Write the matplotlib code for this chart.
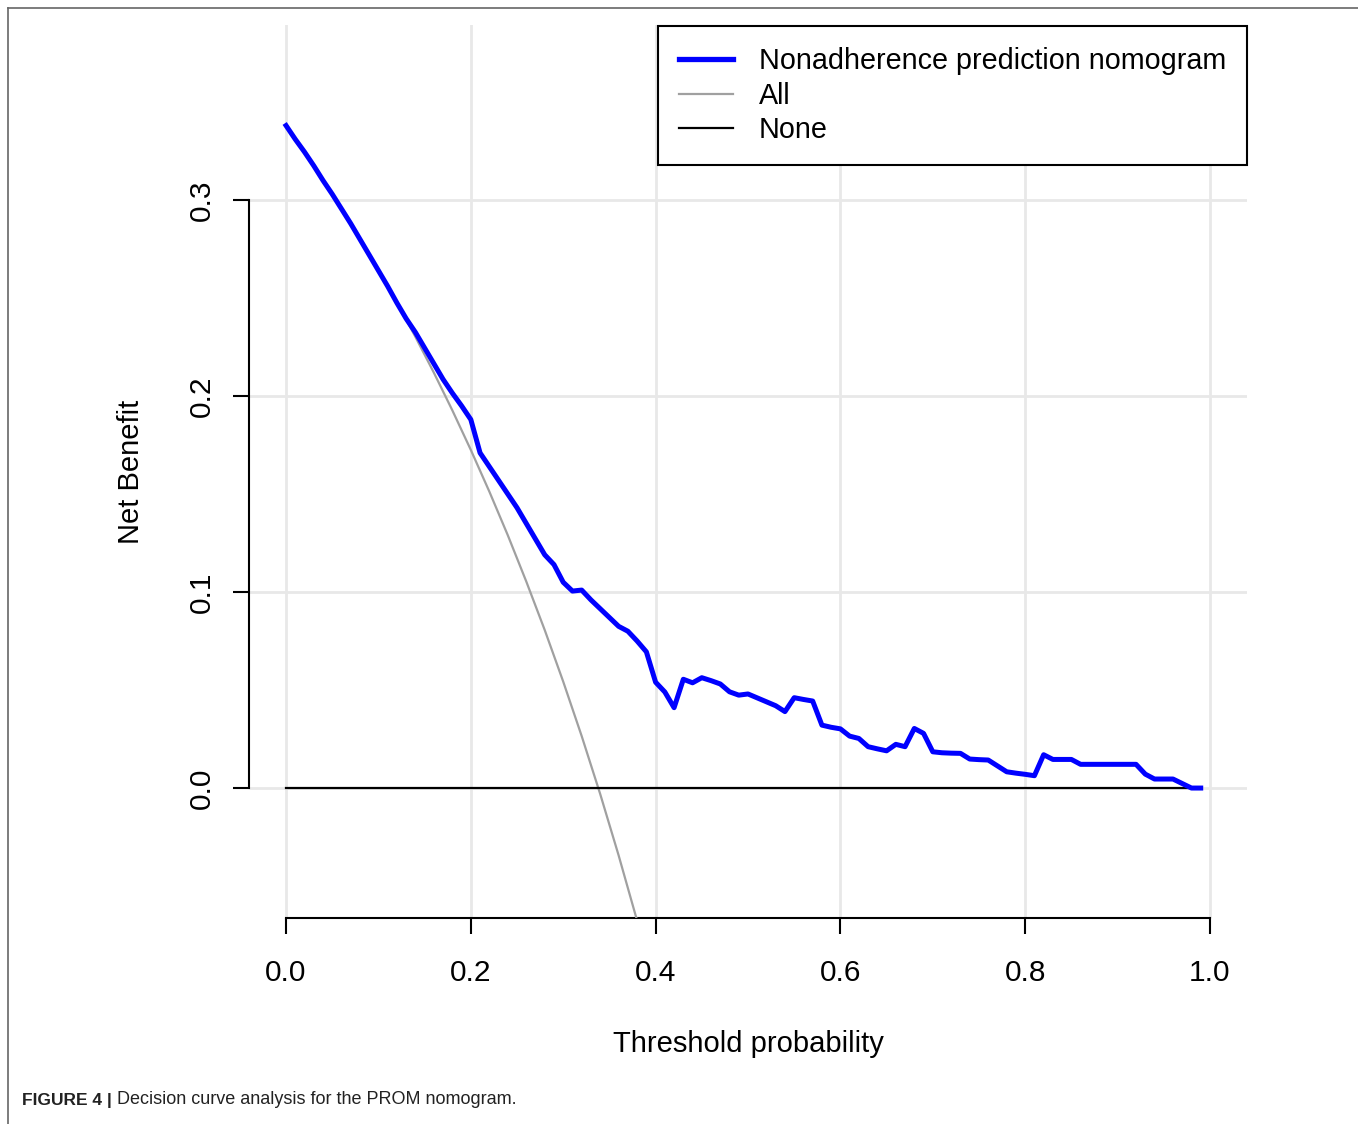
import numpy as np
import matplotlib
matplotlib.use("Agg")
import matplotlib.pyplot as plt
from matplotlib.lines import Line2D

plt.rcParams['font.family'] = ['Liberation Sans', 'DejaVu Sans']

# threshold probabilities (0.00 .. 0.99)
threshold = np.arange(100) / 100.0

# net benefit of the nomogram
nb_model = [
    0.338, 0.331, 0.3245, 0.3175, 0.310, 0.303, 0.2955, 0.288, 0.280, 0.272,
    0.264, 0.256, 0.2475, 0.2395, 0.2325, 0.2245, 0.2165, 0.2085, 0.2015, 0.195,
    0.188, 0.171, 0.164, 0.157, 0.150, 0.143, 0.135, 0.127, 0.119, 0.114,
    0.105, 0.1005, 0.101, 0.096, 0.0915, 0.087, 0.0825, 0.080, 0.075, 0.0695,
    0.054, 0.049, 0.041, 0.0555, 0.0537, 0.0563, 0.0548, 0.0531, 0.0491, 0.0474,
    0.048, 0.046, 0.044, 0.042, 0.039, 0.0461, 0.0452, 0.0444, 0.0321, 0.031,
    0.0302, 0.0265, 0.0253, 0.0211, 0.020, 0.019, 0.0223, 0.0211, 0.0304, 0.0279,
    0.0185, 0.018, 0.0178, 0.0177, 0.0148, 0.0145, 0.0143, 0.0113, 0.0083, 0.0076,
    0.007, 0.0063, 0.017, 0.0146, 0.0146, 0.0146, 0.0121, 0.0121, 0.0121, 0.0121,
    0.0121, 0.0121, 0.0121, 0.0071, 0.0046, 0.0046, 0.0046, 0.0023, 0.0, 0.0,
]

# "treat all" curve
all_x = [0.00, 0.02, 0.04, 0.06, 0.08, 0.10, 0.12, 0.14, 0.16, 0.18,
         0.20, 0.22, 0.24, 0.26, 0.28, 0.30, 0.32, 0.34, 0.36, 0.38]
all_y = [0.338, 0.3245, 0.3104, 0.2957, 0.2804, 0.2644, 0.2477, 0.2302, 0.2119, 0.1927,
         0.1725, 0.1513, 0.1290, 0.1054, 0.0806, 0.0543, 0.0265, -0.0030, -0.0344, -0.0677]

# "treat none"
none_x = [0.0, 0.99]
none_y = [0.0, 0.0]

x_ticks = [0.0, 0.2, 0.4, 0.6, 0.8, 1.0]
y_ticks = [0.0, 0.1, 0.2, 0.3]
labels = ['Nonadherence prediction nomogram', 'All', 'None']

W, H = 1358, 1124
fig = plt.figure(figsize=(W / 100, H / 100), dpi=100)
ax = fig.add_axes([249 / W, 1 - 918 / H, (1247 - 249) / W, (918 - 25) / H])

ax.set_xlim(-0.0401, 1.0401)
ax.set_ylim(-0.0663, 0.3893)

for xt in x_ticks:
    ax.axvline(xt, color='#e8e8e8', lw=2, zorder=0)
for yt in y_ticks:
    ax.axhline(yt, color='#e8e8e8', lw=2, zorder=0)

ax.plot(threshold, nb_model, color='#0000ff', lw=3.6, zorder=4)
ax.plot(all_x, all_y, color='#a0a0a0', lw=1.6, zorder=3)
ax.plot(none_x, none_y, color='black', lw=1.6, zorder=3)

for s in ['top', 'right']:
    ax.spines[s].set_visible(False)
ax.spines['left'].set_bounds(0, 0.3)
ax.spines['bottom'].set_bounds(0, 1)
ax.spines['left'].set_linewidth(1.5)
ax.spines['bottom'].set_linewidth(1.5)

ax.set_xticks(x_ticks)
ax.set_xticklabels(['0.0', '0.2', '0.4', '0.6', '0.8', '1.0'])
ax.set_yticks(y_ticks)
ax.set_yticklabels(['0.0', '0.1', '0.2', '0.3'], rotation=90, va='center')
ax.tick_params(axis='both', direction='out', length=11.5, width=1.5, labelsize=21.5)
ax.tick_params(axis='x', pad=18)
ax.tick_params(axis='y', pad=12)

ax.set_xlabel('Threshold probability', fontsize=21, labelpad=31)
ax.set_ylabel('Net Benefit', fontsize=21, labelpad=31)

handles = [Line2D([], [], color='#0000ff', lw=3.8),
           Line2D([], [], color='#a0a0a0', lw=1.6),
           Line2D([], [], color='black', lw=1.6)]
leg = ax.legend(handles, labels, loc='upper right', fontsize=20.7,
                bbox_to_anchor=(1247 / W, 1 - 26 / H), bbox_transform=fig.transFigure,
                borderaxespad=0, borderpad=0.72, labelspacing=0.24, handlelength=1.88,
                handletextpad=0.9, fancybox=False, framealpha=1, edgecolor='black')
leg.get_frame().set_linewidth(1.5)

# figure border (left and top edges)
fig.add_artist(Line2D([8 / W, 8 / W], [0, 1 - 8 / H], transform=fig.transFigure, color='#666666', lw=1.2))
fig.add_artist(Line2D([8 / W, 1], [1 - 8 / H, 1 - 8 / H], transform=fig.transFigure, color='#666666', lw=1.2))

# caption
cap_y = 1 - 1100 / H
t1 = fig.text(22 / W, cap_y, 'FIGURE 4 |', fontsize=12.5, fontweight='bold',
              va='center', ha='left', color='#222222')
fig.canvas.draw()
bb = t1.get_window_extent(renderer=fig.canvas.get_renderer())
fig.text((bb.x1 + 5) / W, cap_y, 'Decision curve analysis for the PROM nomogram.', fontsize=13,
         va='center', ha='left', color='#222222')

fig.savefig('out.png', dpi=100)
